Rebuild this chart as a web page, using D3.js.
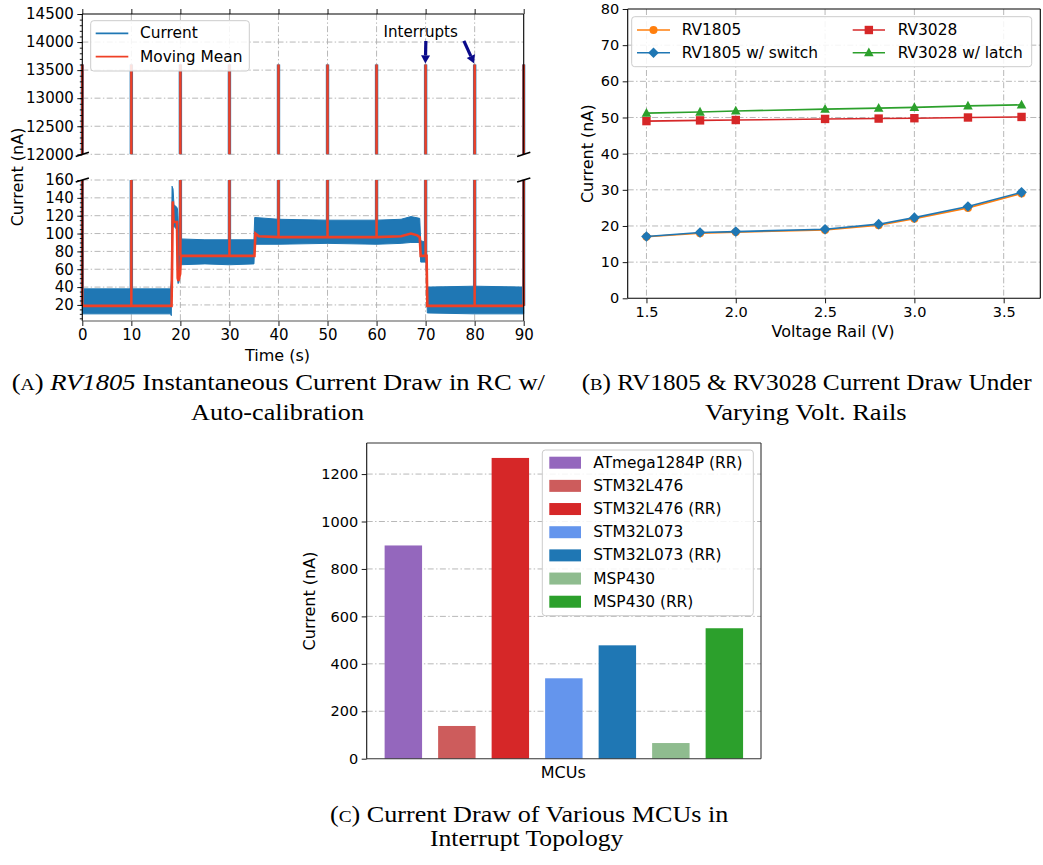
<!DOCTYPE html>
<html><head><meta charset="utf-8">
<script src="https://cdn.jsdelivr.net/npm/d3@7"></script>
<style>body{margin:0;background:#fff} svg{display:block}</style>
</head><body><svg id="c" width="1043" height="865"></svg>
<script>
// ---------------- DATA ----------------
// Panel A: RV1805 instantaneous current (envelope of noisy trace) and moving mean
const interruptTimes = [0, 10, 20, 30, 40, 50, 60, 70, 80, 90];
const interruptPeak = 13600;
const interruptBase = [19, 19, 75, 75, 96, 96, 96, 75, 19, 19];
const bandTime = [0, 18.0, 18.15, 18.3, 18.5, 18.7, 19.2, 19.4, 19.5, 19.7, 19.9, 25, 30, 35.0, 35.15, 40, 50, 60, 65, 67, 68.8, 69.0, 70.1, 70.35, 80, 90];
const bandLow  = [10, 10, 8, 100, 108, 108, 105, 60, 44, 45, 65, 66, 65, 66, 88, 88, 89, 88, 89, 90, 90, 68, 68, 11, 10, 10];
const bandHigh = [38, 38, 48, 153, 150, 132, 130, 128, 120, 95, 94, 93, 93, 93, 118, 116, 115, 115, 116, 119, 117, 92, 90, 40, 41, 40];
const meanTime  = [0, 18.2, 18.3, 18.45, 18.6, 19.3, 19.45, 19.6, 19.95, 20.1, 35.1, 35.3, 36, 40, 60, 65, 67, 68.3, 68.8, 69.0, 70.2, 70.35, 90];
const meanValue = [19, 19, 60, 136, 113, 113, 50, 47, 55, 75, 75, 100, 97, 96, 96, 97, 100, 98, 96, 75, 75, 19, 19];
const annotText = "Interrupts";

// Panel B: current vs voltage rail
const voltages = [1.5, 1.8, 2.0, 2.5, 2.8, 3.0, 3.3, 3.6];
const rv1805 = [17.0, 18.0, 18.3, 18.9, 20.2, 22.0, 25.0, 29.0];
const rv1805Switch = [17.1, 18.2, 18.45, 19.1, 20.5, 22.3, 25.4, 29.3];
const rv3028 = [49.0, 49.2, 49.3, 49.6, 49.7, 49.8, 50.0, 50.15];
const rv3028Latch = [51.2, 51.5, 51.8, 52.3, 52.6, 52.8, 53.2, 53.5];
const seriesNamesB = ["RV1805", "RV1805 w/ switch", "RV3028", "RV3028 w/ latch"];

// Panel C: MCU current
const mcuNames = ["ATmega1284P (RR)", "STM32L476", "STM32L476 (RR)", "STM32L073", "STM32L073 (RR)", "MSP430", "MSP430 (RR)"];
const mcuCurrent = [899, 138, 1268, 339, 478, 66, 550];

// ---------------- STYLE ----------------
const mcuPalette = ['#9467bd', '#cd5c5c', '#d62728', '#6495ed', '#1f77b4', '#8fbc8f', '#2ca02c'];
const bPalette = ['#ff7f0e', '#1f77b4', '#d62728', '#2ca02c'];
const BLUE = '#1f77b4', RED = '#ef4026';
const GRID = '#b0b0b0', DASH = '6,2.4,1.4,2.4';
const FONT = '"DejaVu Sans", sans-serif';
const SERIF = '"Liberation Serif", "DejaVu Serif", serif';

const svg = d3.select('#c');
svg.append('rect').attr('width', 1043).attr('height', 865).attr('fill', '#fff');
const defs = svg.append('defs');

function hgrid(g, scale, vals, x0, x1) {
  g.append('g').selectAll('line').data(vals).join('line')
    .attr('x1', x0).attr('x2', x1).attr('y1', d => scale(d)).attr('y2', d => scale(d))
    .attr('stroke', GRID).attr('stroke-width', 0.9).attr('stroke-dasharray', DASH);
}
function vgrid(g, scale, vals, y0, y1) {
  g.append('g').selectAll('line').data(vals).join('line')
    .attr('y1', y0).attr('y2', y1).attr('x1', d => scale(d)).attr('x2', d => scale(d))
    .attr('stroke', GRID).attr('stroke-width', 0.9).attr('stroke-dasharray', DASH);
}
function axisG(g, axis, tx, ty, fs) {
  const a = g.append('g').attr('transform', `translate(${tx},${ty})`).call(axis);
  a.attr('font-family', FONT).attr('font-size', fs);
  a.select('.domain').remove();
  a.selectAll('line').attr('stroke', '#000').attr('stroke-width', 0.9);
  a.selectAll('text').attr('fill', '#000');
  return a;
}
function spine(g, x1, y1, x2, y2, col) {
  g.append('line').attr('x1', x1).attr('y1', y1).attr('x2', x2).attr('y2', y2)
    .attr('stroke', col || '#000').attr('stroke-width', 1.1);
}
function txt(g, x, y, s, fs, opts) {
  opts = opts || {};
  const t = g.append('text').attr('x', x).attr('y', y).text(s)
    .attr('font-family', opts.family || FONT).attr('font-size', fs)
    .attr('text-anchor', opts.anchor || 'middle').attr('dominant-baseline', opts.base || 'central')
    .attr('fill', '#000');
  if (opts.rotate) t.attr('transform', `rotate(-90,${x},${y})`);
  return t;
}

// ================= PANEL A =================
const gA = svg.append('g');
const A = {l: 82.3, r: 523.7, tTop: 14, tBot: 154.3, bTop: 180, bBot: 321};
const xA = d3.scaleLinear().domain([0, 90]).range([A.l, A.r]);
const yTop = d3.scaleLinear().domain([12000, 14500]).range([A.tBot, A.tTop]);
const yBot = d3.scaleLinear().domain([2, 160]).range([A.bBot, A.bTop]);
const xTicksA = d3.range(0, 91, 10);

// grids
hgrid(gA, yTop, d3.range(12000, 14001, 500), A.l, A.r);
vgrid(gA, xA, d3.range(10, 81, 10), A.tTop, A.tBot);
hgrid(gA, yBot, d3.range(20, 161, 20), A.l, A.r);
vgrid(gA, xA, d3.range(10, 81, 10), A.bTop, A.bBot);

defs.append('clipPath').attr('id', 'clipTop').append('rect')
  .attr('x', A.l - 2).attr('y', A.tTop).attr('width', A.r - A.l + 4).attr('height', A.tBot - A.tTop);
defs.append('clipPath').attr('id', 'clipBot').append('rect')
  .attr('x', A.l - 2).attr('y', A.bTop).attr('width', A.r - A.l + 4).attr('height', A.bBot - A.bTop);

// bottom panel data
const gBotData = gA.append('g').attr('clip-path', 'url(#clipBot)');
const idxBand = d3.range(bandTime.length);
gBotData.append('path')
  .attr('d', d3.area().x(i => xA(bandTime[i])).y0(i => yBot(bandLow[i])).y1(i => yBot(bandHigh[i]))(idxBand))
  .attr('fill', BLUE).attr('stroke', BLUE).attr('stroke-width', 1);
gBotData.selectAll('line.bs').data(interruptTimes).join('line').attr('class', 'bs')
  .attr('x1', d => xA(d)).attr('x2', d => xA(d))
  .attr('y1', (d, i) => yBot(interruptBase[i])).attr('y2', A.bTop - 5)
  .attr('stroke', BLUE).attr('stroke-width', 3.4);
const idxMean = d3.range(meanTime.length);
gBotData.append('path')
  .attr('d', d3.line().x(i => xA(meanTime[i])).y(i => yBot(meanValue[i]))(idxMean))
  .attr('fill', 'none').attr('stroke', RED).attr('stroke-width', 2.6);
gBotData.selectAll('line.rs').data(interruptTimes).join('line').attr('class', 'rs')
  .attr('x1', d => xA(d)).attr('x2', d => xA(d))
  .attr('y1', (d, i) => yBot(interruptBase[i])).attr('y2', A.bTop - 5)
  .attr('stroke', RED).attr('stroke-width', 2.5);

// top panel data
const gTopData = gA.append('g').attr('clip-path', 'url(#clipTop)');
gTopData.selectAll('line.bs').data(interruptTimes).join('line').attr('class', 'bs')
  .attr('x1', d => xA(d)).attr('x2', d => xA(d))
  .attr('y1', A.tBot + 5).attr('y2', yTop(interruptPeak))
  .attr('stroke', BLUE).attr('stroke-width', 3.4);
gTopData.selectAll('line.rs').data(interruptTimes).join('line').attr('class', 'rs')
  .attr('x1', d => xA(d)).attr('x2', d => xA(d))
  .attr('y1', A.tBot + 5).attr('y2', yTop(interruptPeak))
  .attr('stroke', RED).attr('stroke-width', 2.5);

// axes A
axisG(gA, d3.axisLeft(yTop).tickValues(d3.range(12000, 14501, 500)).tickFormat(d3.format('d')).tickSize(5).tickPadding(3.5), A.l, 0, 15);
axisG(gA, d3.axisLeft(yTop).tickValues(d3.range(12000, 14501, 100)).tickFormat('').tickSize(2.5), A.l, 0, 15);
axisG(gA, d3.axisTop(xA).tickValues(xTicksA).tickFormat('').tickSize(5), 0, A.tTop, 15);
axisG(gA, d3.axisLeft(yBot).tickValues(d3.range(20, 161, 20)).tickFormat(d3.format('d')).tickSize(5).tickPadding(3.5), A.l, 0, 15);
axisG(gA, d3.axisLeft(yBot).tickValues(d3.range(5, 161, 5)).tickFormat('').tickSize(2.5), A.l, 0, 15);
axisG(gA, d3.axisBottom(xA).tickValues(xTicksA).tickFormat(d3.format('d')).tickSize(5).tickPadding(3), 0, A.bBot, 15);

// spines A
spine(gA, A.l, A.tTop, A.r, A.tTop);
spine(gA, A.l, A.tTop, A.l, A.tBot);
spine(gA, A.r, A.tTop, A.r, A.tBot);
spine(gA, A.l, A.bTop, A.l, A.bBot);
spine(gA, A.r, A.bTop, A.r, A.bBot);
spine(gA, A.l, A.bBot, A.r, A.bBot, '#555');
// break marks
[[A.l, A.tBot], [A.r, A.tBot], [A.l, A.bTop], [A.r, A.bTop]].forEach(p => {
  gA.append('line').attr('x1', p[0] - 6.6).attr('y1', p[1] + 2.1).attr('x2', p[0] + 6.6).attr('y2', p[1] - 2.1)
    .attr('stroke', '#000').attr('stroke-width', 1.6);
});

// legend A
const lgA = gA.append('g');
lgA.append('rect').attr('x', 90.7).attr('y', 20.7).attr('width', 158.6).attr('height', 50.3).attr('rx', 3)
  .attr('fill', '#fff').attr('fill-opacity', 0.85).attr('stroke', '#cccccc');
[['Current', BLUE], ['Moving Mean', RED]].forEach((e, i) => {
  const y = 33.3 + i * 23.4;
  lgA.append('line').attr('x1', 95.7).attr('x2', 128.3).attr('y1', y).attr('y2', y).attr('stroke', e[1]).attr('stroke-width', 1.8);
  txt(lgA, 140, y, e[0], 15.4, {anchor: 'start'});
});

// annotation
txt(gA, xA(69.0), yTop(14185), annotText, 15.1);
function arrow(g, x1, y1, x2, y2) {
  const dx = x2 - x1, dy = y2 - y1, L = Math.hypot(dx, dy), ux = dx / L, uy = dy / L;
  const hl = 8, hw = 4.5;
  const bx = x2 - ux * hl, by = y2 - uy * hl;
  g.append('line').attr('x1', x1).attr('y1', y1).attr('x2', bx).attr('y2', by)
    .attr('stroke', '#0a0a8a').attr('stroke-width', 3.2);
  g.append('path').attr('d', `M${x2},${y2}L${bx - uy * hw},${by + ux * hw}L${bx + uy * hw},${by - ux * hw}Z`)
    .attr('fill', '#0a0a8a');
}
arrow(gA, xA(70.05), yTop(14020), xA(69.95), yTop(13620));
arrow(gA, xA(77.8), yTop(14020), xA(79.9), yTop(13620));

// labels A
txt(gA, 17.3, 177, 'Current (nA)', 16, {rotate: true});
txt(gA, 277.5, 355, 'Time (s)', 16);

// ================= PANEL B =================
const gB = svg.append('g');
const B = {l: 627.7, r: 1040.3, t: 9, b: 298.3};
const xB = d3.scaleLinear().domain([1.395, 3.705]).range([B.l, B.r]);
const yB = d3.scaleLinear().domain([0, 80]).range([B.b, B.t]);
hgrid(gB, yB, d3.range(10, 71, 10), B.l, B.r);
vgrid(gB, xB, [1.5, 2.0, 2.5, 3.0, 3.5], B.t, B.b);
axisG(gB, d3.axisLeft(yB).tickValues(d3.range(0, 81, 10)).tickFormat(d3.format('d')).tickSize(5).tickPadding(3.5), B.l, 0, 14.5);
axisG(gB, d3.axisBottom(xB).tickValues([1.5, 2.0, 2.5, 3.0, 3.5]).tickFormat(d3.format('.1f')).tickSize(5).tickPadding(3.5), 0, B.b, 14.5);

function marker(g, type, x, y, col) {
  if (type === 'circle') g.append('circle').attr('cx', x).attr('cy', y).attr('r', 4).attr('fill', col);
  else if (type === 'square') g.append('rect').attr('x', x - 4.2).attr('y', y - 4.2).attr('width', 8.4).attr('height', 8.4).attr('fill', col);
  else if (type === 'diamond') g.append('path').attr('d', `M${x},${y - 5.3}L${x + 5.3},${y}L${x},${y + 5.3}L${x - 5.3},${y}Z`).attr('fill', col);
  else if (type === 'triangle') g.append('path').attr('d', `M${x},${y - 5.2}L${x + 4.8},${y + 3.6}L${x - 4.8},${y + 3.6}Z`).attr('fill', col);
}
const seriesB = [rv1805, rv1805Switch, rv3028, rv3028Latch];
const markersB = ['circle', 'diamond', 'square', 'triangle'];
seriesB.forEach((s, k) => {
  const idx = d3.range(voltages.length);
  gB.append('path').attr('d', d3.line().x(i => xB(voltages[i])).y(i => yB(s[i]))(idx))
    .attr('fill', 'none').attr('stroke', bPalette[k]).attr('stroke-width', 1.6);
  idx.forEach(i => marker(gB, markersB[k], xB(voltages[i]), yB(s[i]), bPalette[k]));
});
spine(gB, B.l, B.t, B.r, B.t); spine(gB, B.l, B.b, B.r, B.b);
spine(gB, B.l, B.t, B.l, B.b); spine(gB, B.r, B.t, B.r, B.b);

// legend B
const lgB = gB.append('g');
lgB.append('rect').attr('x', 631.7).attr('y', 16.7).attr('width', 400).attr('height', 50).attr('rx', 3)
  .attr('fill', '#fff').attr('fill-opacity', 0.85).attr('stroke', '#cccccc');
seriesNamesB.forEach((name, k) => {
  const col = Math.floor(k / 2), row = k % 2;
  const hx0 = col ? 852.7 : 637, hx1 = col ? 885 : 670, tx = col ? 897.7 : 681.7;
  const y = 30 + row * 22.7;
  lgB.append('line').attr('x1', hx0).attr('x2', hx1).attr('y1', y).attr('y2', y).attr('stroke', bPalette[k]).attr('stroke-width', 1.6);
  marker(lgB, markersB[k], (hx0 + hx1) / 2, y, bPalette[k]);
  txt(lgB, tx, y, name, 15.4, {anchor: 'start'});
});
txt(gB, 588, 153.7, 'Current (nA)', 16, {rotate: true});
txt(gB, 833, 331.7, 'Voltage Rail (V)', 16);

// ================= PANEL C =================
const gC = svg.append('g');
const C = {l: 366.7, r: 761, t: 443, b: 758.7};
const xC = d3.scaleLinear().domain([-0.685, 6.685]).range([C.l, C.r]);
const yC = d3.scaleLinear().domain([0, 1331]).range([C.b, C.t]);
hgrid(gC, yC, d3.range(200, 1201, 200), C.l, C.r);
gC.selectAll('rect.bar').data(mcuCurrent).join('rect').attr('class', 'bar')
  .attr('x', (d, i) => xC(i - 0.35)).attr('width', (d, i) => xC(i + 0.35) - xC(i - 0.35))
  .attr('y', d => yC(d)).attr('height', d => yC(0) - yC(d))
  .attr('fill', (d, i) => mcuPalette[i]);
axisG(gC, d3.axisLeft(yC).tickValues(d3.range(0, 1201, 200)).tickFormat(d3.format('d')).tickSize(5).tickPadding(3.5), C.l, 0, 14.5);
spine(gC, C.l, C.t, C.r, C.t, '#333'); spine(gC, C.l, C.b, C.r, C.b, '#333');
spine(gC, C.l, C.t, C.l, C.b, '#111'); spine(gC, C.r, C.t, C.r, C.b, '#333');

const lgC = gC.append('g');
lgC.append('rect').attr('x', 542.3).attr('y', 450).attr('width', 211).attr('height', 165.7).attr('rx', 3)
  .attr('fill', '#fff').attr('fill-opacity', 0.85).attr('stroke', '#cccccc');
mcuNames.forEach((n, i) => {
  const y = 462.7 + i * 23.17;
  lgC.append('rect').attr('x', 549.3).attr('y', y - 6).attr('width', 31.7).attr('height', 12).attr('fill', mcuPalette[i]);
  txt(lgC, 593.3, y, n, 15.4, {anchor: 'start'});
});
txt(gC, 309, 601, 'Current (nA)', 16, {rotate: true});
txt(gC, 563.3, 772, 'MCUs', 16);

// ================= CAPTIONS =================
function caption(x0, x1, y, parts) {
  const t = svg.append('text').attr('x', x0).attr('y', y).attr('font-family', SERIF).attr('font-size', 23)
    .attr('fill', '#000').attr('textLength', x1 - x0).attr('lengthAdjust', 'spacingAndGlyphs');
  parts.forEach(p => {
    const ts = t.append('tspan').text(p.t);
    if (p.sc) ts.attr('font-size', 17);
    if (p.it) ts.attr('font-style', 'italic');
  });
}
caption(11.7, 545, 390, [{t: '('}, {t: 'A', sc: 1}, {t: ') '}, {t: 'RV1805', it: 1}, {t: ' Instantaneous Current Draw in RC w/'}]);
caption(191, 364, 420, [{t: 'Auto-calibration'}]);
caption(581.7, 1031.7, 390, [{t: '('}, {t: 'B', sc: 1}, {t: ') RV1805 & RV3028 Current Draw Under'}]);
caption(705, 906.7, 420, [{t: 'Varying Volt. Rails'}]);
caption(330, 728.3, 821.7, [{t: '('}, {t: 'C', sc: 1}, {t: ') Current Draw of Various MCUs in'}]);
caption(430, 623.3, 845.5, [{t: 'Interrupt Topology'}]);
</script>
</body></html>
